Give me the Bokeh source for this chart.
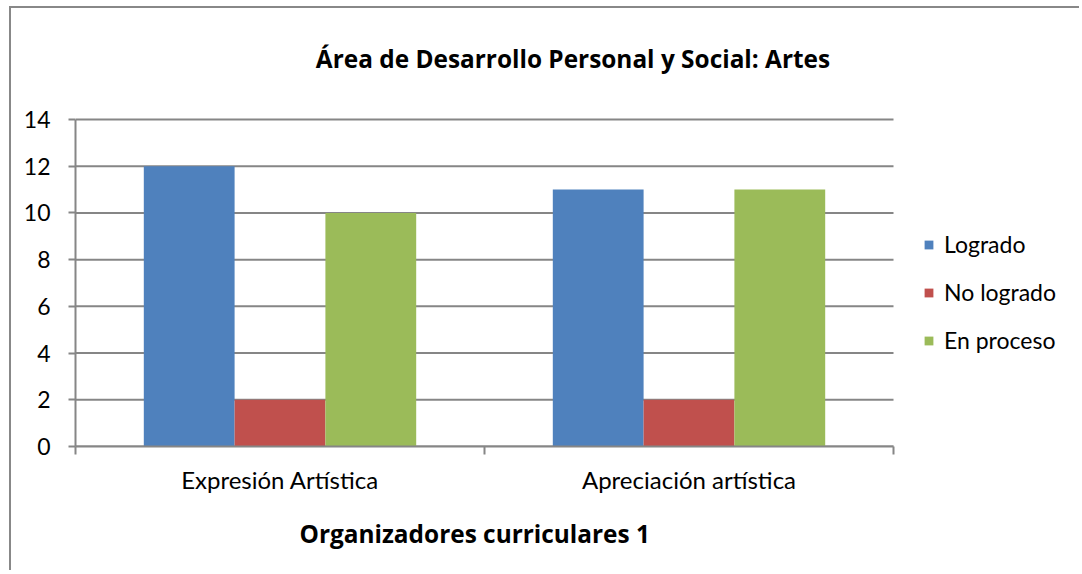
import numpy as np
from bokeh.plotting import figure
from bokeh.models import (ColumnDataSource, Range1d, LinearAxis, FixedTicker,
                          Legend, LegendItem, Title, Label)
from bokeh.embed import file_html
from bokeh.resources import INLINE

categories = ["Expresión Artística", "Apreciación artística"]
logrado = [12, 11]
no_logrado = [2, 2]
en_proceso = [10, 11]
series_names = ["Logrado", "No logrado", "En proceso"]
colors = ["#4F81BD", "#C0504D", "#9BBB59"]
y_ticks = [0, 2, 4, 6, 8, 10, 12, 14]
title_text = "Área de Desarrollo Personal y Social: Artes"
x_title = "Organizadores curriculares 1"

FONT = "Lato"
BOLD_FONT = "Open Sans"
GRID = "#868686"
FS = "23px"

n = len(categories)
centers = np.arange(n) + 0.5
y_max = y_ticks[-1]

# layout (pixels)
W, H = 1070, 564
LEFT, BOTTOM = 64, 126
PLOT_W = 818          # width of the category area
PLOT_H = 327          # height of the 0..14 area
px_cat = PLOT_W / n
px_y = PLOT_H / y_max
frame_w = W - LEFT
frame_h = H - BOTTOM
x_end = frame_w / px_cat
y_end = frame_h / px_y

p = figure(width=W, height=H, x_range=Range1d(0, x_end), y_range=Range1d(0, y_end),
           output_backend="svg", toolbar_location=None, x_axis_location=None,
           min_border_left=LEFT, min_border_right=0, min_border_top=0, min_border_bottom=BOTTOM)
p.styles = {"border-top": "2px solid #888888", "border-left": "2px solid #888888",
            "margin-left": "9px", "margin-top": "6px"}
p.outline_line_color = None
p.background_fill_color = "white"
p.border_fill_color = "white"
p.xgrid.visible = False
p.ygrid.visible = False

# gridlines over the category area only
p.segment(x0=0, x1=n, y0=y_ticks, y1=y_ticks, line_color=GRID, line_width=2)

bw = 0.222
renderers = []
for i, (vals, color) in enumerate(zip([logrado, no_logrado, en_proceso], colors)):
    src = ColumnDataSource(dict(x=centers + (i - 1) * bw, top=vals, cat=categories))
    r = p.vbar(x="x", top="top", width=bw, source=src, fill_color=color, line_color=None)
    renderers.append(r)

# y axis
yax = p.yaxis[0]
yax.bounds = (0, y_max)
yax.ticker = FixedTicker(ticks=y_ticks)
yax.axis_line_color = GRID
yax.axis_line_width = 2
yax.major_tick_line_color = GRID
yax.major_tick_line_width = 2
yax.major_tick_out = 7
yax.major_tick_in = 0
yax.minor_tick_line_color = None
yax.major_label_text_font = FONT
yax.major_label_text_font_size = FS
yax.major_label_text_color = "black"
yax.major_label_standoff = 18

# x axis: labels at category centres, (minor) tick marks at category boundaries
xax = LinearAxis(ticker=FixedTicker(ticks=list(centers), minor_ticks=list(range(n + 1))),
                 major_label_overrides={float(c): lab for c, lab in zip(centers, categories)},
                 bounds=(0, n))
xax.axis_line_color = GRID
xax.axis_line_width = 2
xax.major_tick_line_color = None
xax.major_tick_out = 8
xax.major_tick_in = 0
xax.minor_tick_line_color = GRID
xax.minor_tick_line_width = 2
xax.minor_tick_out = 8
xax.minor_tick_in = 0
xax.major_label_text_font = FONT
xax.major_label_text_font_size = "24px"
xax.major_label_text_color = "black"
xax.major_label_standoff = 10
p.add_layout(xax, "below")

# chart title
p.add_layout(Label(x=(572.5 - 75) / px_cat, y=y_max + (119 - 58) / px_y, text=title_text,
                   text_font=BOLD_FONT, text_font_size="24.4px", text_font_style="bold",
                   text_align="center", text_baseline="middle", text_color="black"))

# x-axis title
xt = Title(text=x_title, text_font=BOLD_FONT, text_font_size="24.4px", text_font_style="bold",
           text_color="black", align="left", offset=224, standoff=37)
p.add_layout(xt, "below")

legend = Legend(items=[LegendItem(label=s, renderers=[r]) for s, r in zip(series_names, renderers)],
                location=(848, 92), orientation="vertical")
legend.padding = 0
legend.margin = 0
legend.border_line_color = None
legend.background_fill_alpha = 0
legend.glyph_width = 11
legend.glyph_height = 11
legend.label_standoff = 10
legend.label_height = 28
legend.spacing = 20
legend.label_text_font = FONT
legend.label_text_font_size = FS
legend.label_text_color = "black"
p.add_layout(legend, "center")

open("out.html", "w").write(file_html(p, INLINE))
